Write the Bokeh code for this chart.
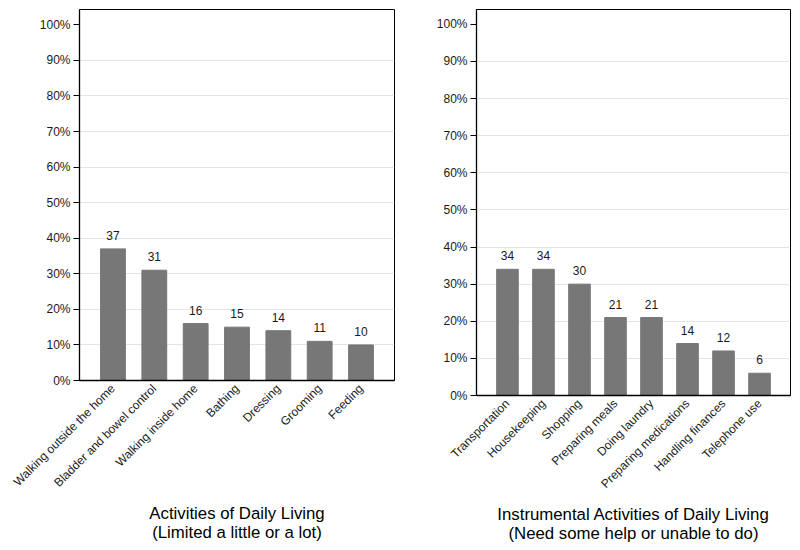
import math
from bokeh.plotting import figure
from bokeh.layouts import row, column
from bokeh.core.properties import value
from bokeh.models import ColumnDataSource, FactorRange, FixedTicker, LabelSet, CustomJSTickFormatter
from bokeh.embed import file_html
from bokeh.resources import INLINE

adl_categories = ["Walking outside the home", "Bladder and bowel control", "Walking inside home",
                  "Bathing", "Dressing", "Grooming", "Feeding"]
adl_values = [37, 31, 16, 15, 14, 11, 10]

iadl_categories = ["Transportation", "Housekeeping", "Shopping", "Preparing meals", "Doing laundry",
                   "Preparing medications", "Handling finances", "Telephone use"]
iadl_values = [34, 34, 30, 21, 21, 14, 12, 6]

y_ticks = [0, 10, 20, 30, 40, 50, 60, 70, 80, 90, 100]
grid_ticks = [10, 20, 30, 40, 50, 60, 70, 80, 90]

FONT = "Liberation Sans"
TXT = "#1a1a1a"
BAR = "#777777"


def make_panel(cats, vals, caption, width, height, pad, ytop, bl, br, bt, bb, standoff):
    src = ColumnDataSource(dict(cat=cats, val=vals, lab=[str(v) for v in vals]))
    p = figure(x_range=FactorRange(factors=cats, range_padding=pad, range_padding_units="absolute"),
               y_range=(0, ytop), width=width, height=height,
               output_backend="svg", toolbar_location=None,
               min_border_left=bl, min_border_right=br, min_border_top=bt, min_border_bottom=bb)
    p.vbar(x="cat", top="val", width=0.6, source=src, fill_color=BAR, line_color=BAR)
    labels = LabelSet(x="cat", y="val", text="lab", source=src, text_align="center",
                      text_baseline="bottom", y_offset=9, text_font_size="12px",
                      text_font=value(FONT), text_color=TXT)
    p.add_layout(labels)

    p.outline_line_color = "black"
    p.outline_line_width = 1
    p.outline_line_alpha = 1
    p.xgrid.grid_line_color = None
    p.ygrid.ticker = FixedTicker(ticks=grid_ticks)
    p.ygrid.grid_line_color = "#e4e4e4"
    p.ygrid.grid_line_width = 1.2

    p.yaxis.ticker = FixedTicker(ticks=y_ticks)
    p.yaxis.formatter = CustomJSTickFormatter(code="return tick + '%';")
    p.yaxis.major_tick_out = 6
    p.yaxis.major_tick_in = 0
    p.yaxis.minor_tick_line_color = None
    p.yaxis.major_label_standoff = 3
    p.yaxis.major_label_text_font = FONT
    p.yaxis.major_label_text_font_size = "12px"
    p.yaxis.major_label_text_color = TXT
    p.yaxis.axis_line_color = "black"
    p.yaxis.axis_line_width = 1.3

    p.xaxis.major_tick_out = 0
    p.xaxis.major_tick_in = 0
    p.xaxis.major_label_orientation = math.pi / 4
    p.xaxis.major_label_standoff = 6
    p.xaxis.major_label_text_font = FONT
    p.xaxis.major_label_text_font_size = "12px"
    p.xaxis.major_label_text_color = TXT
    p.xaxis.axis_line_color = "black"
    p.xaxis.axis_line_width = 1.3
    p.xaxis.axis_label = caption
    p.xaxis.axis_label_text_font = FONT
    p.xaxis.axis_label_text_font_size = "16.8px"
    p.xaxis.axis_label_text_font_style = "normal"
    p.xaxis.axis_label_text_color = "black"
    p.xaxis.axis_label_text_line_height = 1.0
    p.xaxis.axis_label_standoff = standoff
    return p


p1 = make_panel(adl_categories, adl_values,
                "Activities of Daily Living\n(Limited a little or a lot)",
                400, 550, 0.31, 104.3, 79, 6, 9, 170, 6)
p2 = make_panel(iadl_categories, iadl_values,
                "Instrumental Activities of Daily Living\n(Need some help or unable to do)",
                400, 550, 0.36, 104.0, 76, 10, 9, 155, 6)

layout = row(column(p1), column(p2), spacing=0)
open("out.html", "w").write(file_html(layout, INLINE))
